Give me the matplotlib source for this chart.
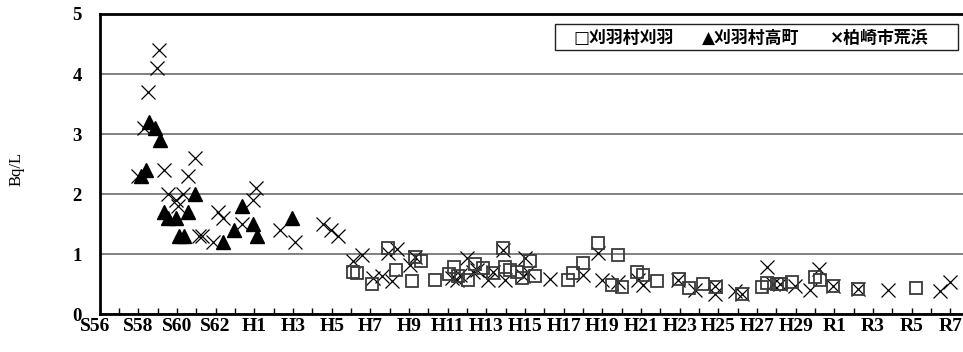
import matplotlib
matplotlib.use('Agg')
import matplotlib.pyplot as plt
from matplotlib.patches import Rectangle
from matplotlib.transforms import ScaledTranslation

# 刈羽村刈羽 (□)
kariwa_year = [1994.09, 1994.33, 1995.10, 1995.93, 1996.33, 1997.14, 1997.31, 1997.61,
               1998.33, 1999.07, 1999.33, 1999.55, 2000.07, 2000.42, 2000.84, 2001.36,
               2001.88, 2001.97, 2002.23, 2002.57, 2002.83, 2003.26, 2003.52, 2005.24,
               2005.50, 2006.02, 2006.79, 2007.49, 2007.83, 2008.00, 2008.82, 2009.13,
               2009.82, 2010.98, 2011.50, 2012.23, 2012.86, 2014.21, 2015.26, 2015.52,
               2016.02, 2016.22, 2016.83, 2018.00, 2018.25, 2018.95, 2020.25, 2023.23]
kariwa_val = [0.71, 0.68, 0.50, 1.10, 0.74, 0.56, 0.95, 0.88,
              0.57, 0.67, 0.79, 0.64, 0.57, 0.84, 0.77, 0.68,
              1.10, 0.79, 0.74, 0.71, 0.60, 0.88, 0.64, 0.57,
              0.69, 0.85, 1.19, 0.49, 0.99, 0.46, 0.71, 0.65,
              0.55, 0.59, 0.43, 0.50, 0.45, 0.34, 0.46, 0.52,
              0.51, 0.51, 0.54, 0.62, 0.57, 0.47, 0.42, 0.44]

# 刈羽村高町 (▲)
takamachi_year = [1983.14, 1983.40, 1983.57, 1983.86, 1984.12, 1984.34, 1984.55, 1984.93,
                  1985.10, 1985.36, 1985.58, 1985.93, 1987.36, 1987.96, 1988.35, 1988.92,
                  1989.12, 1990.93]
takamachi_val = [2.3, 2.4, 3.2, 3.1, 2.9, 1.7, 1.6, 1.6,
                 1.3, 1.3, 1.7, 2.0, 1.2, 1.4, 1.8, 1.5,
                 1.3, 1.6]

# 柏崎市荒浜 (×)
arahama_year = [1983.00, 1983.29, 1983.48, 1983.95, 1984.08, 1984.34, 1984.55, 1984.93,
                1985.07, 1985.29, 1985.58, 1985.93, 1986.15, 1986.31, 1986.88, 1987.14,
                1987.36, 1988.35, 1988.95, 1989.09, 1990.33, 1991.10, 1992.57, 1992.95,
                1993.31, 1994.12, 1994.55, 1995.15, 1995.59, 1995.93, 1996.11, 1996.36,
                1997.05, 1997.31, 1999.21, 1999.47, 1999.64, 1999.99, 2000.33, 2000.52,
                2001.10, 2001.36, 2001.88, 2001.97, 2002.91, 2003.00, 2003.17, 2004.30,
                2006.02, 2006.79, 2006.97, 2007.83, 2008.86, 2009.12, 2010.93, 2011.82,
                2012.83, 2012.83, 2013.87, 2014.21, 2015.51, 2015.81, 2016.18, 2016.99,
                2017.75, 2018.20, 2018.95, 2020.25, 2021.80, 2024.47, 2024.99]
arahama_val = [2.3, 3.1, 3.7, 4.1, 4.4, 2.4, 2.0, 1.9,
               1.8, 2.0, 2.3, 2.6, 1.3, 1.3, 1.2, 1.7,
               1.6, 1.5, 1.9, 2.1, 1.4, 1.2, 1.5, 1.4,
               1.3, 0.89, 0.99, 0.60, 0.63, 1.02, 0.55, 1.08,
               0.82, 0.95, 0.60, 0.57, 0.65, 0.93, 0.71, 0.74,
               0.57, 0.71, 1.07, 0.57, 0.63, 0.93, 0.71, 0.59,
               0.65, 1.02, 0.57, 0.54, 0.57, 0.49, 0.57, 0.40,
               0.47, 0.34, 0.38, 0.34, 0.79, 0.50, 0.51, 0.47,
               0.40, 0.75, 0.47, 0.42, 0.41, 0.38, 0.54]

tick_years = list(range(1981, 2026))
era_labels = ['S56', 'S58', 'S60', 'S62', 'H1', 'H3', 'H5', 'H7', 'H9', 'H11', 'H13', 'H15',
              'H17', 'H19', 'H21', 'H23', 'H25', 'H27', 'H29', 'R1', 'R3', 'R5', 'R7']
legend_texts = ['□刈羽村刈羽', '▲刈羽村高町', '×柏崎市荒浜']

W, H = 963, 352
fig = plt.figure(figsize=(W / 100, H / 100), dpi=100)
ax = fig.add_axes([99.7 / W, 37.7 / H, (W - 99.7) / W, 300.3 / H])

ax.set_xlim(1981, 1981 + (W - 99.7) / 19.33)
ax.set_ylim(0, 5)

ax.yaxis.grid(True, color='#808080', linewidth=1.4)
ax.set_axisbelow(True)

ax.plot(arahama_year, arahama_val, linestyle='none', marker='x', markersize=9.5,
        markeredgewidth=0.9, color='black', zorder=3)
ax.plot(kariwa_year, kariwa_val, linestyle='none', marker='s', markersize=8.5,
        markeredgewidth=1.3, markerfacecolor='none', markeredgecolor='#3a3a3a', zorder=3)
ax.plot(takamachi_year, takamachi_val, linestyle='none', marker='^', markersize=10,
        color='black', zorder=4)

labels = []
for i, y in enumerate(tick_years):
    labels.append(era_labels[i // 2] if i % 2 == 0 else '')
ax.set_xticks(tick_years)
ax.set_xticklabels(labels, fontfamily='Liberation Serif', fontweight='bold', fontsize=14)
ax.set_yticks(range(6))
ax.set_yticklabels([str(v) for v in range(6)], fontfamily='Liberation Serif',
                   fontweight='bold', fontsize=13.5)
ax.tick_params(axis='x', direction='in', length=4, width=1, pad=3)
ax.tick_params(axis='y', length=0, pad=13)

# first label sits a bit left of its tick in the original
first = ax.get_xticklabels()[0]
first.set_transform(first.get_transform() + ScaledTranslation(-0.05, 0, fig.dpi_scale_trans))

for side in ['left', 'bottom', 'top']:
    ax.spines[side].set_linewidth(2)
ax.spines['right'].set_visible(False)

fig.text(17 / W, 1 - 169 / H, 'Bq/L', rotation=90, ha='center', va='center',
         fontfamily='Liberation Serif', fontsize=12)

# legend drawn as a text box, like the original
fig.add_artist(Rectangle((555 / W, 1 - 50 / H), 403 / W, 26 / H, transform=fig.transFigure,
                         facecolor='white', edgecolor='#222222', linewidth=1, zorder=5))
for txt, x0 in zip(legend_texts, [573, 702, 830]):
    fig.text(x0 / W, 1 - 37.5 / H, txt, ha='left', va='center', fontsize=12.2,
             fontweight='bold', family=['DejaVu Sans', 'Noto Sans CJK JP'], zorder=6)

fig.savefig('out.png', dpi=100)
plt.close('all')
